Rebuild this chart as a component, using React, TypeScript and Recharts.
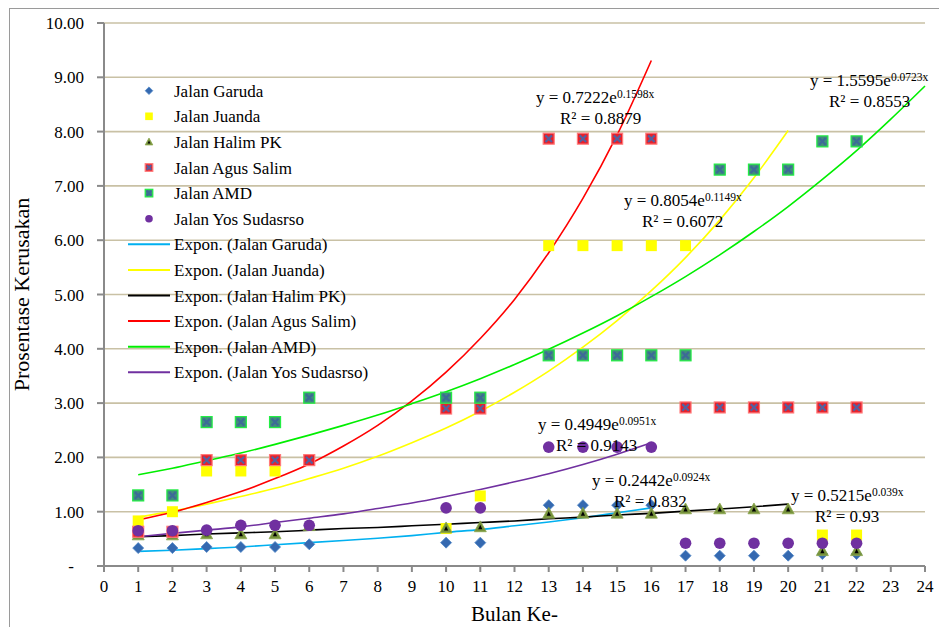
import {
  ComposedChart,
  Scatter,
  Line,
  XAxis,
  YAxis,
  CartesianGrid,
} from "recharts";

// Bulan ke- (month) positions that carry observations
const MONTHS = [1, 2, 3, 4, 5, 6, 10, 11, 13, 14, 15, 16, 17, 18, 19, 20, 21, 22];

// Prosentase kerusakan per road (null = no point)
const garuda = [0.33, 0.33, 0.35, 0.35, 0.35, 0.4, 0.43, 0.43, 1.12, 1.12, 1.12, 1.12, 0.19, 0.19, 0.19, 0.19, 0.22, 0.22];
const juanda = [0.83, 1.0, 1.75, 1.75, 1.75, null, 0.69, 1.29, 5.9, 5.9, 5.9, 5.9, 5.9, null, null, null, 0.57, 0.57];
const halimPK = [0.57, 0.57, 0.59, 0.59, 0.59, 0.74, 0.7, 0.72, 0.97, 0.97, 0.97, 0.97, 1.05, 1.05, 1.05, 1.05, 0.28, 0.28];
const agusSalim = [0.63, 0.63, 1.95, 1.95, 1.95, 1.95, 2.9, 2.9, 7.87, 7.87, 7.87, 7.87, 2.92, 2.92, 2.92, 2.92, 2.92, 2.92];
const amd = [1.3, 1.3, 2.65, 2.65, 2.65, 3.1, 3.1, 3.1, 3.88, 3.88, 3.88, 3.88, 3.88, 7.3, 7.3, 7.3, 7.82, 7.82];
const yosSudasrso = [0.65, 0.65, 0.66, 0.75, 0.75, 0.75, 1.07, 1.07, 2.19, 2.19, 2.19, 2.19, 0.42, 0.42, 0.42, 0.42, 0.42, 0.42];

// Excel exponential trendlines, values at whole months
const trendGaruda = [0.27, 0.29, 0.32, 0.35, 0.39, 0.43, 0.47, 0.51, 0.56, 0.62, 0.67, 0.74, 0.81, 0.89, 0.98, 1.07];
const trendJuanda = [0.9, 1.01, 1.14, 1.28, 1.43, 1.61, 1.8, 2.02, 2.27, 2.54, 2.85, 3.2, 3.59, 4.03, 4.52, 5.07, 5.68, 6.37, 7.15, 8.02];
const trendHalimPK = [0.54, 0.56, 0.59, 0.61, 0.63, 0.66, 0.69, 0.71, 0.74, 0.77, 0.8, 0.83, 0.87, 0.9, 0.94, 0.97, 1.01, 1.05, 1.09, 1.14];
const trendAgusSalim = [0.85, 0.99, 1.17, 1.37, 1.61, 1.88, 2.21, 2.59, 3.04, 3.57, 4.19, 4.91, 5.77, 6.77, 7.94, 9.31];
const trendAmd = [1.68, 1.8, 1.94, 2.08, 2.24, 2.41, 2.59, 2.78, 2.99, 3.21, 3.45, 3.71, 3.99, 4.29, 4.61, 4.96, 5.33, 5.73, 6.16, 6.62, 7.12, 7.65, 8.23, 8.84];
const trendYosSudasrso = [0.54, 0.6, 0.66, 0.72, 0.8, 0.88, 0.96, 1.06, 1.16, 1.28, 1.41, 1.55, 1.7, 1.87, 2.06, 2.27];

const Y_TICKS = [0, 1, 2, 3, 4, 5, 6, 7, 8, 9, 10];
const X_TICKS = Array.from({ length: 25 }, (_, i) => i);

const FONT = "'Liberation Serif', 'Times New Roman', serif";

type Pt = { x: number; y: number };

const toPoints = (vals: (number | null)[]): Pt[] =>
  MONTHS.map((x, i) => ({ x, y: vals[i] as number })).filter((p) => p.y != null);

const toTrend = (vals: number[]): Pt[] => vals.map((y, i) => ({ x: i + 1, y }));

// marker drawers, shared by the plot and the legend
const Diamond = ({ cx, cy, s = 5.5 }: any) => (
  <path d={`M${cx},${cy - s}L${cx + s},${cy}L${cx},${cy + s}L${cx - s},${cy}Z`} fill="#3569b0" stroke="#4f86c6" strokeWidth={0.8} />
);
const Square = ({ cx, cy, s = 5.5 }: any) => (
  <rect x={cx - s} y={cy - s} width={s * 2} height={s * 2} fill="#ffff00" />
);
const Triangle = ({ cx, cy, s = 6 }: any) => (
  <g>
    <path d={`M${cx},${cy - s}L${cx + s},${cy + s * 0.8}L${cx - s},${cy + s * 0.8}Z`} fill="#77933c" stroke="#8aa64d" strokeWidth={0.8} />
    <path d={`M${cx},${cy - s * 0.35}L${cx + s * 0.35},${cy + s * 0.4}L${cx - s * 0.35},${cy + s * 0.4}Z`} fill="#000" />
  </g>
);
const crossBox = (fill: string, edge: string, cross: string) => ({ cx, cy, s = 5.5 }: any) => (
  <g>
    <rect x={cx - s} y={cy - s} width={s * 2} height={s * 2} fill={fill} stroke={edge} strokeWidth={1.2} />
    <path d={`M${cx - s * 0.6},${cy - s * 0.6}L${cx + s * 0.6},${cy + s * 0.6}M${cx + s * 0.6},${cy - s * 0.6}L${cx - s * 0.6},${cy + s * 0.6}`} stroke={cross} strokeWidth={2.2} />
  </g>
);
const RedBox = crossBox("#e8202a", "#ff7a7a", "#55609f");
const GreenBox = crossBox("#3f8f7a", "#22ee44", "#3d6a98");
const Dot = ({ cx, cy, s = 5.8 }: any) => <circle cx={cx} cy={cy} r={s} fill="#7030a0" />;

const SERIES = [
  { name: "Jalan Garuda", data: garuda, trend: trendGaruda, marker: Diamond, line: "#00b0f0" },
  { name: "Jalan Juanda", data: juanda, trend: trendJuanda, marker: Square, line: "#ffff00" },
  { name: "Jalan Halim PK", data: halimPK, trend: trendHalimPK, marker: Triangle, line: "#000000" },
  { name: "Jalan Agus Salim", data: agusSalim, trend: trendAgusSalim, marker: RedBox, line: "#ff0000" },
  { name: "Jalan AMD", data: amd, trend: trendAmd, marker: GreenBox, line: "#00ee00" },
  { name: "Jalan Yos Sudasrso", data: yosSudasrso, trend: trendYosSudasrso, marker: Dot, line: "#7030a0" },
];

// equation labels as Excel placed them (left x, baseline y of first line)
const EQUATIONS = [
  { x: 536, y: 103, a: "0.7222", b: "0.1598x", r2: "0.8879", rx: 560 },
  { x: 624, y: 206, a: "0.8054", b: "0.1149x", r2: "0.6072", rx: 642 },
  { x: 810, y: 86, a: "1.5595", b: "0.0723x", r2: "0.8553", rx: 829 },
  { x: 538, y: 430, a: "0.4949", b: "0.0951x", r2: "0.9143", rx: 556 },
  { x: 592, y: 486, a: "0.2442", b: "0.0924x", r2: "0.832", rx: 614 },
  { x: 791, y: 501, a: "0.5215", b: "0.039x", r2: "0.93", rx: 815 },
];

const YTick = ({ x, y, payload }: any) => (
  <text x={payload.value === 0 ? x - 10 : x} y={y} dy={6} textAnchor="end" fontSize={17} fontFamily={FONT} fill="#000">
    {payload.value === 0 ? "-" : payload.value.toFixed(2)}
  </text>
);

export default function App() {
  return (
    <div style={{ position: "absolute", top: 0, left: 0, width: 939, height: 627, overflow: "hidden", background: "#fff" }}>
      <div style={{ position: "absolute", left: 9, top: 8, width: 1000, height: 1000, border: "1.5px solid #9a9a9a" }} />
      <div style={{ position: "absolute", left: 0, top: 0 }}>
        <ComposedChart width={939} height={627} margin={{ top: 23, right: 14, bottom: 0, left: 4 }}>
          <CartesianGrid vertical={false} stroke="#c9c1a5" strokeWidth={1.6} />
          <XAxis
            type="number"
            dataKey="x"
            domain={[0, 24]}
            ticks={X_TICKS}
            interval={0}
            height={61}
            stroke="#8a8a8a"
            strokeWidth={2}
            tickSize={6}
            tickMargin={8}
            tick={{ fontSize: 17, fontFamily: FONT, fill: "#000" }}
            label={{ value: "Bulan Ke-", position: "insideBottom", offset: 6, fontSize: 21, fontFamily: FONT, fill: "#000" }}
          />
          <YAxis
            type="number"
            dataKey="y"
            domain={[0, 10]}
            ticks={Y_TICKS}
            interval={0}
            width={100}
            stroke="#8a8a8a"
            strokeWidth={2}
            tickSize={7}
            tickMargin={13}
            tick={<YTick />}
            label={{
              value: "Prosentase  Kerusakan",
              angle: -90,
              position: "insideLeft",
              offset: 17,
              fontSize: 22,
              fontFamily: FONT,
              fill: "#000",
              style: { textAnchor: "middle", whiteSpace: "pre" },
            }}
          />
          {SERIES.map((s) => (
            <Scatter
              key={s.name}
              name={s.name}
              data={toPoints(s.data)}
              dataKey="y"
              shape={(p: any) => <s.marker cx={p.cx} cy={p.cy} />}
              isAnimationActive={false}
            />
          ))}
          {SERIES.map((s) => (
            <Line
              key={"trend-" + s.name}
              name={"Expon. (" + s.name + ")"}
              data={toTrend(s.trend)}
              dataKey="y"
              type="monotone"
              stroke={s.line}
              strokeWidth={1.6}
              dot={false}
              activeDot={false}
              isAnimationActive={false}
            />
          ))}
        </ComposedChart>
      </div>
      <svg width={939} height={627} style={{ position: "absolute", left: 0, top: 0, pointerEvents: "none" }} fontFamily={FONT}>
        {SERIES.map((s, i) => {
          const cy = 90.7 + i * 25.6;
          return (
            <g key={"leg-" + s.name}>
              <s.marker cx={149} cy={cy} s={3.8} />
              <text x={174} y={cy + 6} fontSize={17} fill="#000">{s.name}</text>
            </g>
          );
        })}
        {SERIES.map((s, i) => {
          const cy = 90.7 + (i + 6) * 25.6;
          return (
            <g key={"legl-" + s.name}>
              <line x1={128} x2={170} y1={cy} y2={cy} stroke={s.line} strokeWidth={2} />
              <text x={174} y={cy + 6} fontSize={17} fill="#000">{"Expon. (" + s.name + ")"}</text>
            </g>
          );
        })}
        {EQUATIONS.map((e) => (
          <g key={e.a}>
            <text x={e.x} y={e.y} fontSize={17} fill="#000">
              {"y = " + e.a + "e"}
              <tspan dy={-5} fontSize={11.5}>{e.b}</tspan>
            </text>
            <text x={e.rx} y={e.y + 21} fontSize={17} fill="#000">{"R² = " + e.r2}</text>
          </g>
        ))}
      </svg>
    </div>
  );
}
